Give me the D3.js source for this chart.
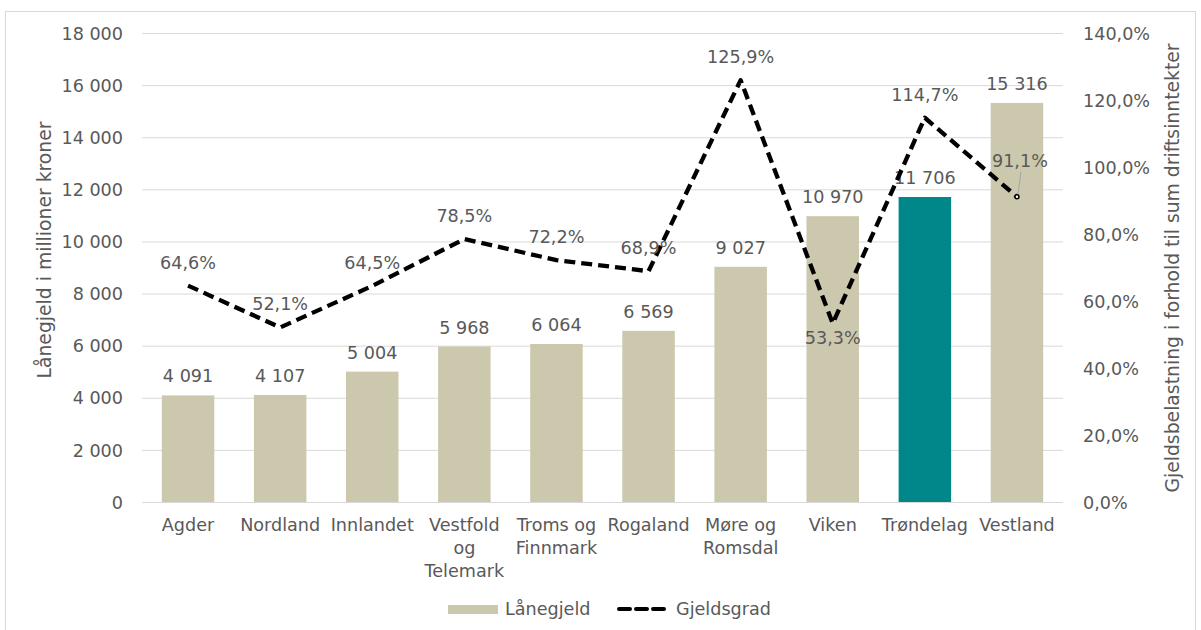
<!DOCTYPE html>
<html>
<head>
<meta charset="utf-8">
<script src="https://cdn.jsdelivr.net/npm/d3@7"></script>
<style>
  body { margin: 0; background: #fff; }
  text { font-family: Verdana, "DejaVu Sans", sans-serif; fill: #595959; }
</style>
</head>
<body>
<script>
const categories = ["Agder", "Nordland", "Innlandet", "Vestfold og Telemark", "Troms og Finnmark",
    "Rogaland", "Møre og Romsdal", "Viken", "Trøndelag", "Vestland"];
// wrapped category labels as shown under the axis
const categoryLines = [["Agder"], ["Nordland"], ["Innlandet"], ["Vestfold", "og", "Telemark"],
    ["Troms og", "Finnmark"], ["Rogaland"], ["Møre og", "Romsdal"], ["Viken"], ["Trøndelag"], ["Vestland"]];
const laanegjeld = [4091, 4107, 5004, 5968, 6064, 6569, 9027, 10970, 11706, 15316];
const gjeldsgrad = [64.6, 52.1, 64.5, 78.5, 72.2, 68.9, 125.9, 53.3, 114.7, 91.1];
const leftTicks = [0, 2000, 4000, 6000, 8000, 10000, 12000, 14000, 16000, 18000];
const rightTicks = [0, 20, 40, 60, 80, 100, 120, 140];
const highlight = "Trøndelag";

const width = 1201;
const height = 630;
const fs = 17.6;
const titleFs = 18.8;

const locale = d3.formatLocale({ decimal: ",", thousands: " ", grouping: [3], currency: ["", " kr"] });
const fmtNum = locale.format(",d");
const fmtPct = (v) => locale.format(".1f")(v) + "%";

const svg = d3.select('body')
    .append('svg')
    .attr('width', width)
    .attr('height', height);

// outer frame
svg.append('rect')
    .attr('x', 5.5).attr('y', 11.5)
    .attr('width', 1190).attr('height', 640)
    .attr('fill', 'none')
    .attr('stroke', '#d9d9d9');

const x = d3.scaleBand()
    .domain(categories)
    .range([142, 1063])
    .paddingInner(0.43)
    .paddingOuter(0.215);

const y = d3.scaleLinear().domain([0, 18000]).range([502, 33]);
const y2 = d3.scaleLinear().domain([0, 140]).range([502, 33]);

// gridlines
svg.append('g')
    .selectAll('line')
    .data(leftTicks)
    .join('line')
    .attr('x1', 142).attr('x2', 1063)
    .attr('y1', (d) => y(d) + 0.5).attr('y2', (d) => y(d) + 0.5)
    .attr('stroke', '#d9d9d9')
    .attr('stroke-width', 1);

// left axis
const yAxis = svg.append('g')
    .attr('transform', 'translate(142,0)')
    .call(d3.axisLeft(y).tickValues(leftTicks).tickFormat(fmtNum).tickSize(0).tickPadding(19));
yAxis.select('.domain').remove();
yAxis.selectAll('text').attr('font-size', fs).attr('font-family', null).attr('dy', '0.35em');

// right axis
const y2Axis = svg.append('g')
    .attr('transform', 'translate(1063,0)')
    .call(d3.axisRight(y2).tickValues(rightTicks).tickFormat((d) => locale.format(".1f")(d) + "%").tickSize(0).tickPadding(20));
y2Axis.select('.domain').remove();
y2Axis.selectAll('text').attr('font-size', fs).attr('font-family', null).attr('dy', '0.35em');

// bars
svg.append('g')
    .selectAll('rect')
    .data(categories)
    .join('rect')
    .attr('x', (d) => x(d))
    .attr('y', (d, i) => y(laanegjeld[i]))
    .attr('width', x.bandwidth())
    .attr('height', (d, i) => y(0) - y(laanegjeld[i]))
    .attr('fill', (d) => d === highlight ? '#00878a' : '#ccc8ad');

// category labels
svg.append('g')
    .selectAll('text')
    .data(categories)
    .join('text')
    .attr('x', (d) => x(d) + x.bandwidth() / 2)
    .attr('y', 531)
    .attr('text-anchor', 'middle')
    .attr('font-size', fs)
    .each(function (d, i) {
        d3.select(this).selectAll('tspan')
            .data(categoryLines[i])
            .join('tspan')
            .attr('x', x(d) + x.bandwidth() / 2)
            .attr('dy', (t, j) => j === 0 ? 0 : 23)
            .text((t) => t);
    });

// bar value labels
svg.append('g')
    .selectAll('text')
    .data(categories)
    .join('text')
    .attr('x', (d) => x(d) + x.bandwidth() / 2)
    .attr('y', (d, i) => y(laanegjeld[i]) - 13)
    .attr('text-anchor', 'middle')
    .attr('font-size', fs)
    .text((d, i) => fmtNum(laanegjeld[i]));

// dashed line
const cx = (d) => x(d) + x.bandwidth() / 2;
const line = d3.line()
    .x((d) => cx(d))
    .y((d, i) => y2(gjeldsgrad[i]));

svg.append('path')
    .datum(categories)
    .attr('d', line)
    .attr('fill', 'none')
    .attr('stroke', '#000')
    .attr('stroke-width', 4.3)
    .attr('stroke-dasharray', '11,6')
    .attr('stroke-linejoin', 'round');

// line labels: offsets from the point
const labelOffset = { "Viken": [0, 21], "Vestland": [3, -30] };
svg.append('g')
    .selectAll('text')
    .data(categories)
    .join('text')
    .attr('x', (d) => cx(d) + (labelOffset[d] ? labelOffset[d][0] : 0))
    .attr('y', (d, i) => y2(gjeldsgrad[i]) + (labelOffset[d] ? labelOffset[d][1] : -17))
    .attr('text-anchor', 'middle')
    .attr('font-size', fs)
    .text((d, i) => fmtPct(gjeldsgrad[i]));

// leader line for Vestland label
const vi = categories.indexOf("Vestland");
svg.append('line')
    .attr('x1', cx("Vestland") + 4).attr('y1', y2(gjeldsgrad[vi]) - 25)
    .attr('x2', cx("Vestland") + 1).attr('y2', y2(gjeldsgrad[vi]) - 2)
    .attr('stroke', '#a6a6a6')
    .attr('stroke-width', 1);
svg.append('circle')
    .attr('cx', cx("Vestland")).attr('cy', y2(gjeldsgrad[vi]))
    .attr('r', 2)
    .attr('fill', '#fff')
    .attr('stroke', '#000')
    .attr('stroke-width', 1.5);

// axis titles
svg.append('text')
    .attr('transform', 'translate(51,250) rotate(-90)')
    .attr('text-anchor', 'middle')
    .attr('font-size', titleFs)
    .text('Lånegjeld i millioner kroner');

svg.append('text')
    .attr('transform', 'translate(1179,268) rotate(-90)')
    .attr('text-anchor', 'middle')
    .attr('font-size', titleFs)
    .text('Gjeldsbelastning i forhold til sum driftsinntekter');

// legend
const legend = svg.append('g').attr('transform', 'translate(0,609)');
legend.append('rect')
    .attr('x', 448).attr('y', -4)
    .attr('width', 50).attr('height', 9)
    .attr('fill', '#ccc8ad');
legend.append('text')
    .attr('x', 505).attr('y', 0)
    .attr('dy', '0.35em')
    .attr('font-size', fs)
    .text('Lånegjeld');
legend.append('line')
    .attr('x1', 619).attr('x2', 667)
    .attr('y1', 0).attr('y2', 0)
    .attr('stroke', '#000')
    .attr('stroke-width', 4)
    .attr('stroke-dasharray', '11,6')
    .attr('stroke-linecap', 'round');
legend.append('text')
    .attr('x', 676).attr('y', 0)
    .attr('dy', '0.35em')
    .attr('font-size', fs)
    .text('Gjeldsgrad');
</script>
</body>
</html>
